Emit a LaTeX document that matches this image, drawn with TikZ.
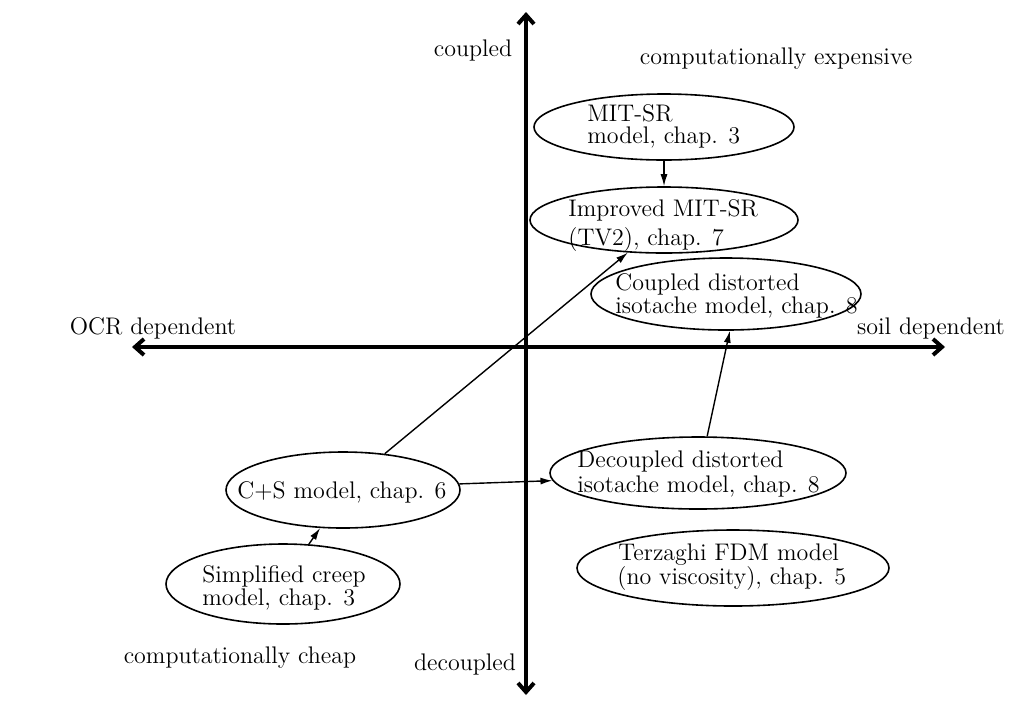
\documentclass[tikz,border=0pt]{standalone}
\usetikzlibrary{shapes.geometric,arrows.meta}
\begin{document}
\begin{tikzpicture}[x=0.5pt,y=-0.5pt,
  every node/.style={font=\fontsize{12}{14}\selectfont},
  model/.style={draw,ellipse,line width=0.8pt,inner sep=0pt},
  lbl/.style={inner sep=0pt,anchor=base west},
  axis/.style={line width=2pt,{Straight Barb[length=4.5pt,width=8pt]}-{Straight Barb[length=4.5pt,width=8pt]}},
  link/.style={line width=0.7pt,-{Latex[length=6pt,width=3.5pt]}}]
\useasboundingbox (0,0) rectangle (1032,708);
% axes
\coordinate (axL) at (132,347);
\coordinate (axR) at (945,347);
\coordinate (axT) at (526,12);
\coordinate (axB) at (526,695);
\draw[axis] (axL) -- (axR);
\draw[axis] (axB) -- (axT);
% axis labels
\node (lcoupled) at (473,50) {coupled};
\node (lexp) at (776,59) {computationally expensive};
\node (locr) at (153,328) {OCR dependent};
\node (lsoil) at (931,328) {soil dependent};
\node (lcheap) at (240,658) {computationally cheap};
\node (ldec) at (465,664) {decoupled};
% ellipses
\node[model,minimum width=130pt,minimum height=33pt] (mit) at (664,127) {};
\node[model,minimum width=134pt,minimum height=33pt] (imp) at (664,220) {};
\node[model,minimum width=135pt,minimum height=36pt] (cop) at (726,294) {};
\node[model,minimum width=148pt,minimum height=36pt] (dec) at (698,473) {};
\node[model,minimum width=156pt,minimum height=38pt] (ter) at (733,568) {};
\node[model,minimum width=117pt,minimum height=38pt] (cs) at (343,490) {};
\node[model,minimum width=117pt,minimum height=40pt] (sc) at (283,584) {};
% texts
\node[lbl] (t1a) at (587,121) {MIT-SR};
\node[lbl] (t1b) at (587,143) {model, chap. 3};
\node[lbl] (t2a) at (568,216) {Improved MIT-SR};
\node[lbl] (t2b) at (568,245) {(TV2), chap. 7};
\node[lbl] (t3a) at (615,290) {Coupled distorted};
\node[lbl] (t3b) at (615,313) {isotache model, chap. 8};
\node[lbl] (t4a) at (577,467) {Decoupled distorted};
\node[lbl] (t4b) at (577,492) {isotache model, chap. 8};
\node[lbl] (t5a) at (618,560) {Terzaghi FDM model};
\node[lbl] (t5b) at (617,584) {(no viscosity), chap. 5};
\node[lbl] (t6a) at (237,498) {C+S model, chap. 6};
\node[lbl] (t7a) at (202,582) {Simplified creep};
\node[lbl] (t7b) at (202,605) {model, chap. 3};
% connectors
\draw[link] (mit.south) -- (imp.north);
\draw[link] (cs.41) -- (imp.222);
\draw[link] (cs.3) -- (dec.183);
\draw[link] (sc.57) -- (cs.239);
\draw[link] (dec.76) -- (cop.276);
\end{tikzpicture}
\end{document}
